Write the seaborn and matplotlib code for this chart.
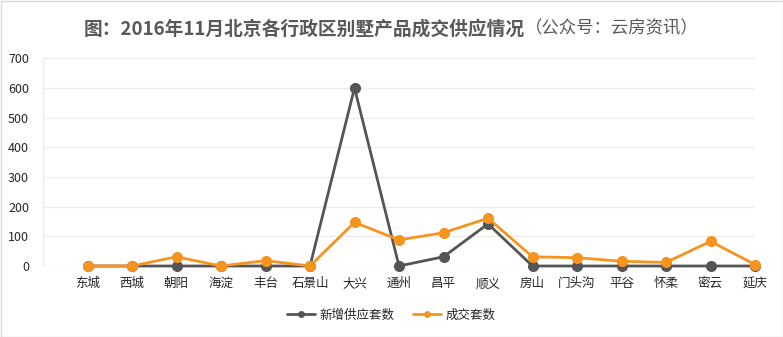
import matplotlib
matplotlib.use("Agg")
import matplotlib.pyplot as plt
import seaborn as sns
import pandas as pd
from matplotlib.patches import Rectangle

districts = ["东城", "西城", "朝阳", "海淀", "丰台", "石景山", "大兴", "通州",
             "昌平", "顺义", "房山", "门头沟", "平谷", "怀柔", "密云", "延庆"]
supply = [0, 0, 0, 0, 0, 0, 600, 0, 31, 142, 0, 0, 0, 0, 0, 0]
deals = [0, 0, 31, 0, 18, 0, 147, 88, 112, 161, 31, 28, 16, 12, 83, 5]
series_names = ["新增供应套数", "成交套数"]
colors = ["#555555", "#f5941f"]
title_main = "图：2016年11月北京各行政区别墅产品成交供应情况"
title_sub = "（公众号：云房资讯）"
yticks = [0, 100, 200, 300, 400, 500, 600, 700]

df = pd.DataFrame({
    "区": districts * 2,
    "套数": supply + deals,
    "系列": [series_names[0]] * len(districts) + [series_names[1]] * len(districts),
})

sns.set_theme(style="white")
plt.rcParams["font.family"] = ["Noto Sans CJK SC", "DejaVu Sans"]

fig = plt.figure(figsize=(7.83, 3.37), dpi=100)
ax = fig.add_axes([43 / 783, (337 - 266) / 337, (755 - 43) / 783, (266 - 58.3) / 337])

sns.lineplot(data=df, x="区", y="套数", hue="系列", hue_order=series_names,
             palette=colors, marker="o", markersize=8, markeredgewidth=0,
             linewidth=2, sort=False, ax=ax)
for ln in ax.get_lines():
    ln.set_clip_on(False)

ax.set_xlim(-1, len(districts) - 1)
ax.set_ylim(0, 700)
ax.set_yticks(yticks)
ax.set_yticklabels([str(v) for v in yticks], fontsize=9, color="#262626")
ax.set_xticks(range(len(districts)))
ax.set_xticklabels(districts, fontsize=9, color="#262626")
ax.set_xticks(range(-1, len(districts)), minor=True)
ax.grid(True, which="minor", axis="x", color="#ebebeb", linewidth=0.8)
ax.grid(True, which="major", axis="y", color="#ebebeb", linewidth=0.8)
ax.tick_params(axis="y", which="both", length=0, pad=10)
ax.tick_params(axis="x", which="both", length=0, pad=8)
ax.set_xlabel("")
ax.set_ylabel("")
for s in ax.spines.values():
    s.set_visible(False)
ax.axhline(0, color="#d9d9d9", linewidth=0.8, zorder=0.5)

leg = ax.legend(loc="center", bbox_to_anchor=(0.5, (337 - 315) / 337),
                bbox_transform=fig.transFigure, ncol=2, frameon=False,
                fontsize=9, handlelength=2.2, columnspacing=1.5, handletextpad=0.4)
for h in leg.legend_handles:
    h.set_markersize(5)
for t in leg.get_texts():
    t.set_color("#262626")

# Title in two parts: bold main text + regular subtitle
fig.canvas.draw()
renderer = fig.canvas.get_renderer()
t1 = fig.text(0, 0.915, title_main, fontsize=13.5, fontweight="bold",
              color="#595959", ha="left", va="center")
t2 = fig.text(0, 0.915, title_sub, fontsize=12.5, color="#595959",
              ha="left", va="center")
w1 = t1.get_window_extent(renderer).width
w2 = t2.get_window_extent(renderer).width
total = w1 + w2
start = (783 / 2 - total / 2) / 783
t1.set_x(start)
t2.set_x(start + w1 / 783)

fig.patches.append(Rectangle((0.5 / 783, 0.5 / 337), 1 - 1 / 783, 1 - 1 / 337,
                             transform=fig.transFigure, fill=False,
                             edgecolor="#d9d9d9", linewidth=1))

fig.savefig("out.png", dpi=100)
